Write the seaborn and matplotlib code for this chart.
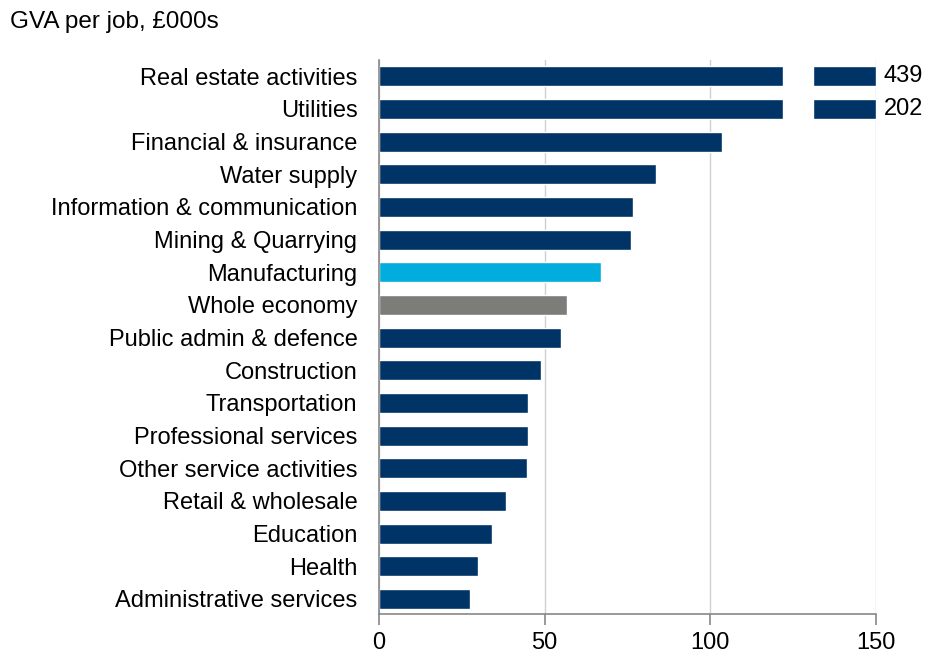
import matplotlib
matplotlib.use("Agg")
import matplotlib.pyplot as plt
import seaborn as sns
import pandas as pd

categories = ["Real estate activities", "Utilities", "Financial & insurance", "Water supply",
              "Information & communication", "Mining & Quarrying", "Manufacturing",
              "Whole economy", "Public admin & defence", "Construction", "Transportation",
              "Professional services", "Other service activities", "Retail & wholesale",
              "Education", "Health", "Administrative services"]
values = [439, 202, 103.5, 83.6, 76.7, 76.0, 67.0, 56.7, 55.0, 49.0, 45.0, 45.0, 44.7,
          38.3, 34.1, 29.9, 27.5]
x_ticks = [0, 50, 100, 150]

AXIS_MAX = 150
BREAK_START, BREAK_END = 122, 131

NAVY = "#003366"
colors = []
for c in categories:
    if c == "Manufacturing":
        colors.append("#00ADDD")
    elif c == "Whole economy":
        colors.append("#7C7C79")
    else:
        colors.append(NAVY)

df = pd.DataFrame({"category": categories, "value": values})
df["shown"] = df["value"].clip(upper=AXIS_MAX)

sns.set_theme(style="white")
plt.rcParams["font.family"] = ["Liberation Sans", "DejaVu Sans"]

FS = 17

fig = plt.figure(figsize=(9.29, 6.54), dpi=100)
ax = fig.add_axes([379 / 929, 1 - 614 / 654, (876 - 379) / 929, (614 - 60) / 654])

sns.barplot(data=df, x="shown", y="category", hue="category", palette=colors,
            legend=False, ax=ax, width=0.61, saturation=1, zorder=2)

# axis break for values beyond the axis
broken = df[df["value"] > AXIS_MAX]
for _, row in broken.iterrows():
    idx = categories.index(row["category"])
    ax.barh(idx, BREAK_END - BREAK_START, left=BREAK_START, height=0.7,
            color="white", zorder=3)
    ax.text(AXIS_MAX + 2.3, idx, f"{row['value']:.0f}", va="center", ha="left",
            fontsize=FS, color="black", clip_on=False)

ax.set_xlim(0, AXIS_MAX)
ax.set_ylim(len(categories) - 0.54, -0.5)
ax.set_xticks(x_ticks)
ax.set_xlabel("")
ax.set_ylabel("")
ax.xaxis.grid(True, color="#D0D0D0", linewidth=1, zorder=0)
ax.yaxis.grid(False)
ax.set_axisbelow(True)

for s in ["top", "right"]:
    ax.spines[s].set_visible(False)
for s in ["left", "bottom"]:
    ax.spines[s].set_visible(True)
    ax.spines[s].set_color("#888888")
    ax.spines[s].set_linewidth(1.2)

ax.tick_params(axis="x", which="both", bottom=True, length=8, width=1.2, color="#888888",
               labelsize=FS, pad=5, labelcolor="black")
ax.tick_params(axis="y", left=False, labelsize=FS, pad=9.5, labelcolor="black")

fig.text(10 / 929, 1 - 22 / 654, "GVA per job, £000s", fontsize=17.5, va="center",
         ha="left", color="black")

fig.savefig("out.png", dpi=100, facecolor="white")
